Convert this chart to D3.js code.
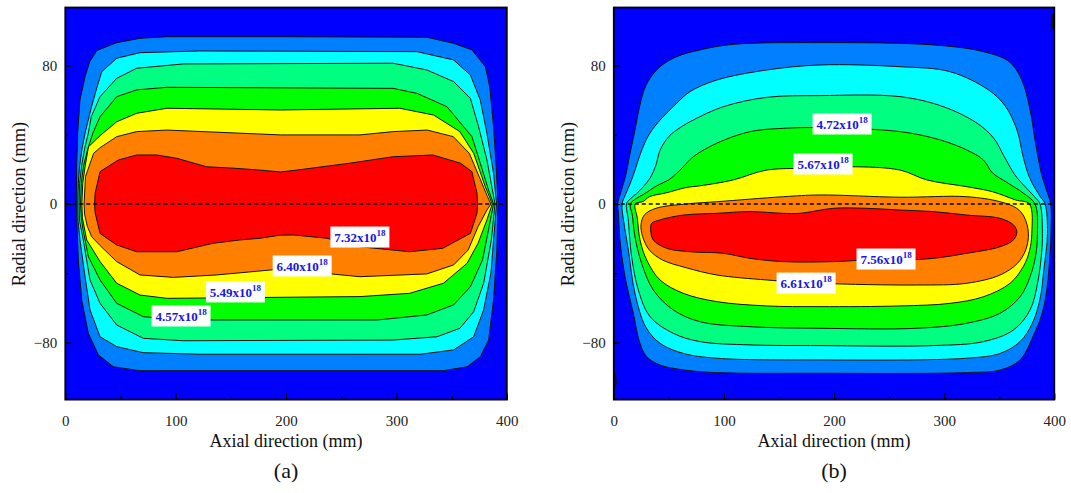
<!doctype html>
<html>
  <head>
    <meta charset="utf-8" />
    <title>Carrier density contours</title>
    <script src="https://cdn.jsdelivr.net/npm/d3@7"></script>
    <style>
      html,
      body {
        margin: 0;
        background: #fff;
        overflow: hidden;
      }
      text {
        font-family: "Liberation Serif", "Times New Roman", serif;
      }
    </style>
  </head>
  <body>
    <script>
      // Axis ticks
      const xTicks = [0, 100, 200, 300, 400];
      const xMinor = [50, 150, 250, 350];
      const yTicks = [-80, 0, 80];
      const yMinor = [-40, 40];
      const tags = ["(a)", "(b)"];

      // Contour boundaries: [axial mm, radial mm]
      // level 1 = outermost band, level 7 = core. upper/lower share end points.

      // ---- panel (a) ----
      const a1Up = [[10,0],[10.3,21.5],[11.2,41],[13.3,60],[17.9,73.5],[22,82],[28.5,88.6],[46.6,93.2],[67.7,95.7],[92,96.6],[200,96.6],[327.6,96.3],[351.8,92.8],[368.4,89],[380.6,79.3],[384.5,67.8],[388,44.7],[390.4,21.5],[392,0]];
      const a1Lo = [[10,0],[10.3,-7.7],[11.8,-32.4],[14.9,-55.5],[20.9,-74.7],[30,-87.2],[43.5,-94],[67.7,-96.3],[342.6,-96.3],[364,-94],[376,-88.2],[383.5,-78.6],[388,-55.5],[391,-26.6],[392,0]];
      const a2Up = [[11.3,0],[11.8,12],[13,22],[15.2,32],[17.9,41],[23,54.3],[28,65.9],[33,76.4],[46.6,84.2],[67.7,87.4],[122,88.4],[318.6,88],[351.8,83.2],[367,74.5],[376,60],[382,40.8],[388,17.7],[390.7,0]];
      const a2Lo = [[11.3,0],[11.6,-10],[13.3,-20.8],[17.9,-42],[22.4,-61.2],[31.5,-76.7],[46.6,-82.4],[70.7,-85.9],[122,-86.8],[321.6,-86.8],[351.8,-84.3],[370,-76.7],[379,-61.2],[385.6,-40],[388.5,-17],[390.7,0]];
      const a3Up = [[12.5,0],[13,12],[14.8,22],[17.5,32],[20.9,41],[23.5,50.4],[31.5,62],[46.6,72.6],[64.7,78.4],[107,80.9],[297,81.3],[327.6,77.4],[351.8,70.7],[367,61],[374.4,44.7],[382,25.4],[389.3,0]];
      const a3Lo = [[12.5,0],[13,-10],[16.3,-20.8],[22.4,-43.9],[31.5,-57.4],[46.6,-69.9],[70.7,-77.6],[107,-79],[297,-78.6],[336.7,-76.7],[357.5,-71.8],[370,-62.2],[379,-45.8],[386,-20.8],[389.3,0]];
      const a4Up = [[13.8,0],[14.5,12],[16.5,22],[20.5,32],[25,41],[31.5,50.4],[46.6,62],[64.7,65.9],[92,67.4],[297,66.8],[318.6,63.9],[345.8,56.2],[368.4,38.9],[376,23.5],[383.5,8],[388,0]];
      const a4Lo = [[13.8,0],[14.5,-8],[15.8,-14],[20.9,-30.4],[31.5,-43.9],[46.6,-57.4],[70.7,-65.1],[107,-67],[283,-67],[327.6,-64.1],[351.8,-58.3],[367,-47.8],[378,-32.3],[384,-13.1],[388,0]];
      const a5Up = [[15,0],[15.8,12],[18,22],[21,33],[31.5,39.5],[46.6,47.5],[64.7,52.4],[92,55.3],[195,54.3],[303,55.3],[333.6,51.4],[357.5,41.8],[370,29.3],[380.5,10],[386.8,0]];
      const a5Lo = [[15,0],[15.5,-8],[19.4,-20.8],[31.5,-33.3],[46.6,-45.8],[67.7,-52.6],[92,-54.5],[267,-53.5],[312,-51.6],[342.6,-45.8],[364,-34.3],[374,-22.7],[382,-9.2],[386.8,0]];
      const a6Up = [[17,0],[18.3,15.8],[25.7,29.3],[31.5,32.5],[46.6,38.9],[64.7,41.8],[92,42.7],[195,39.9],[267,39.9],[297,41.8],[328,42.7],[351.5,38.9],[366,29.3],[375,15.8],[382.5,4.2],[385.6,0]];
      const a6Lo = [[17,0],[17.5,-6],[20,-13],[24,-19],[31.5,-24],[46.6,-33.3],[67.7,-41],[98,-42.4],[137,-41],[195,-37.6],[267,-42],[327.6,-40.4],[351.8,-35.2],[365,-26.6],[374,-13.1],[382,-3.5],[385.6,0]];
      const a7Up = [[26.5,0],[27,6.2],[31.5,18.7],[48,25.4],[64.7,28.3],[82.9,28.3],[101,26.4],[128,21.5],[152,20.7],[176,19.6],[195,18.5],[210,19.6],[258,23.6],[297,27.3],[333,28.3],[358,23.6],[368.4,18.7],[373,6.2],[373.5,0]];
      const a7Lo = [[26.5,0],[27,-5],[31.5,-17],[46.6,-23.7],[64.7,-27.6],[101,-27.6],[134,-22.7],[158,-20.8],[176.5,-19.8],[195,-18],[206.7,-17.9],[237,-19.8],[267,-24.7],[312,-27.6],[342,-25.6],[367,-17],[373,-5.4],[373.5,0]];

      // ---- panel (b) ----
      const b1Up = [[3.5,0],[7,8],[11,17],[15,30],[19,42],[23,55],[27,65],[32.9,72.6],[42,79.3],[57.1,85.1],[78.3,89],[108.5,92.2],[187.3,93.2],[290,91.9],[335.6,88],[359,82.2],[370.5,71.6],[378,54.3],[383,35],[388.5,17],[394.5,5],[396.8,0]];
      const b1Lo = [[3.5,0],[4.2,-5.4],[5.6,-20.8],[10.2,-42],[17.7,-63.1],[23.8,-80.5],[29.9,-88.2],[42,-93],[63.1,-95.8],[93.5,-97.4],[187,-97.8],[320.5,-97.4],[350.8,-95.9],[368.9,-90.1],[381,-76],[389,-63],[393.5,-48],[396,-30],[397,-17],[396.8,0]];
      const b2Up = [[7.5,0],[11,6],[15,12],[19,19],[22.5,26],[26,32],[31,39],[40,47],[57.1,58.2],[69.2,64.9],[93.5,71.6],[138.9,77.4],[187.3,80.3],[259.9,79.3],[305.4,76.4],[340,66],[355,57],[366,43],[372,26.5],[378,14.5],[387,4.5],[391.6,0]];
      const b2Lo = [[7.5,0],[9,-10],[13.2,-26.6],[19.2,-51.6],[28.9,-70.9],[42,-80.5],[63.1,-86.3],[93.5,-89.1],[187.3,-90.1],[320.5,-89.1],[350.8,-86.3],[368.9,-79.5],[380,-69],[387,-55],[390.5,-38],[393.8,-17],[391.6,0]];
      const b3Up = [[11.5,0],[15,3],[20.8,6],[26.8,10],[33,15],[38,22],[42,31],[50,39],[60,44],[72.2,48.5],[99.5,56.2],[138.9,61.6],[187.3,62.6],[259.9,62],[299.3,56.2],[330,46.6],[345,38],[354,28],[364,17],[372,11],[382,4.2],[387,0]];
      const b3Lo = [[11.5,0],[13,-8.3],[16.2,-30.4],[22.3,-49.7],[32.9,-65.1],[54,-74.7],[78.3,-79.5],[123.7,-81.4],[187.3,-81.8],[290,-81.8],[335.6,-79.5],[362.9,-72.8],[378,-61.2],[385,-45],[388.5,-28],[389.2,-17],[387,0]];
      const b4Up = [[15,0],[20,3],[26.8,5.5],[39,10.5],[50,14],[57.1,17.7],[63.1,21.5],[72.2,27.3],[93.5,35.1],[123.7,41.8],[154,43.7],[187.3,44.1],[259.9,41.8],[296.3,37],[320.5,31.2],[335.6,25.4],[343.8,18],[356.9,12.5],[372,6.2],[382.5,0]];
      const b4Lo = [[15,0],[16.8,-6.4],[19.2,-18.9],[25.3,-34.3],[35.9,-49.7],[54,-61.2],[78.3,-68],[123.7,-70.9],[187.3,-71.8],[275,-71.8],[320.5,-68.9],[350.8,-63.1],[368.9,-53.6],[378,-42],[383,-30],[384.7,-17],[382.5,0]];
      const b5Up = [[19.5,0],[26.8,1.5],[32.3,4.2],[48,6.5],[65.6,9.5],[78.3,10.5],[108.5,13.9],[138.9,19.6],[187.3,20.6],[214.4,21.5],[259.9,19.6],[284.2,13.9],[320.5,10],[343.8,7.1],[365,2.3],[377.4,0]];
      const b5Lo = [[19.5,0],[21.4,-8.3],[23.8,-20.8],[29.9,-32.4],[42,-43.9],[63.1,-51.6],[93.5,-56.4],[138.9,-58.9],[187.3,-59.3],[259.9,-58.9],[305.4,-57.4],[335.6,-53.6],[359.9,-45.8],[372,-36],[377.5,-27],[379.6,-17],[377.4,0]];
      const b6Up = [[24.7,-12.1],[27.7,-6.4],[38.3,-2.5],[65.6,0],[93.5,1.3],[154,4.2],[187.3,5.2],[259.9,3.9],[320.5,4.2],[350.8,1.3],[365.9,-2.5],[372.5,-7.3],[376.5,-16.9]];
      const b6Lo = [[24.7,-12.1],[26.2,-18.9],[32.3,-26.6],[44.4,-32.4],[65.6,-36.8],[93.5,-41],[138.9,-43.9],[187.3,-45.8],[275,-46.8],[320.5,-45.8],[350.8,-41],[366.5,-34.3],[374,-26.6],[376.5,-16.9]];
      const b7Up = [[33.5,-15],[34.4,-11.2],[42,-9.2],[63.1,-6.4],[93.5,-5.4],[123.7,-4.4],[154,-5.4],[169,-5.4],[199.4,-2.5],[229.7,-2.5],[259.9,-3.5],[290.2,-4.4],[320.5,-6.4],[350.8,-8.3],[362.9,-12.1],[366,-16]];
      const b7Lo = [[33.5,-15],[35.9,-20.8],[48,-25.6],[69.2,-27.6],[99.5,-28.5],[123.7,-31.4],[154,-33.3],[199.4,-33.3],[229.7,-32.4],[259.9,-32.4],[290.2,-31.4],[320.5,-28.5],[350.8,-24.7],[362.9,-20.8],[366,-16]];
      // small edge contours in the corners of (b)
      const bEdge = [
        [[400,111],[398.4,108],[398,105],[398.6,102],[400,100]],
        [[0,-97],[1.4,-100],[1.8,-102.5],[1.3,-105],[0,-107]],
      ];

      // Level labels: [mantissa, axial mm, radial mm]
      const labelsA = [["7.32", 266.9, -19.1], ["6.40", 214.6, -35.8], ["5.49", 154.1, -50.8], ["4.57", 104.9, -64.7]];
      const labelsB = [["4.72", 207.3, 46.2], ["5.67", 190, 23.1], ["7.56", 247.2, -31.8], ["6.61", 174.6, -45.7]];

      const panelA = [[a1Up,a1Lo],[a2Up,a2Lo],[a3Up,a3Lo],[a4Up,a4Lo],[a5Up,a5Lo],[a6Up,a6Lo],[a7Up,a7Lo]];
      const panelB = [[b1Up,b1Lo],[b2Up,b2Lo],[b3Up,b3Lo],[b4Up,b4Lo],[b5Up,b5Lo],[b6Up,b6Lo],[b7Up,b7Lo]];

      // Colour for each band (0 = background)
      const color = d3
        .scaleOrdinal()
        .domain(d3.range(0, 8))
        .range(["#0000ff", "#0080ff", "#00ffff", "#00ff80", "#00ff00", "#ffff00", "#ff8000", "#ff0000"]);

      const width = 1071;
      const height = 493;
      const plotTop = 7.5;
      const plotBottom = 399.6;

      const panels = [
        { x0: 65.3, x1: 506.8, levels: panelA, labels: labelsA, curve: d3.curveLinearClosed, edges: [] },
        { x0: 613.8, x1: 1054.3, levels: panelB, labels: labelsB, curve: d3.curveCatmullRomClosed.alpha(0.5), edges: bEdge },
      ];

      const svg = d3
        .select("body")
        .append("svg")
        .attr("width", width)
        .attr("height", height)
        .attr("viewBox", [0, 0, width, height]);

      const ring = (up, lo) => up.concat(lo.slice(1, -1).reverse());

      panels.forEach((p, i) => {
        const x = d3.scaleLinear().domain([0, 400]).range([p.x0, p.x1]);
        const y = d3.scaleLinear().domain([-113, 113.5]).range([plotBottom, plotTop]);
        const line = d3
          .line()
          .x((d) => x(d[0]))
          .y((d) => y(d[1]))
          .curve(p.curve);

        const g = svg.append("g");

        g.append("clipPath")
          .attr("id", "clip" + i)
          .append("rect")
          .attr("x", p.x0)
          .attr("y", plotTop)
          .attr("width", p.x1 - p.x0)
          .attr("height", plotBottom - plotTop);

        const plot = g.append("g").attr("clip-path", `url(#clip${i})`);

        // background band
        plot
          .append("rect")
          .attr("x", p.x0)
          .attr("y", plotTop)
          .attr("width", p.x1 - p.x0)
          .attr("height", plotBottom - plotTop)
          .attr("fill", color(0));

        // filled contour bands, outermost first
        plot
          .selectAll("path.band")
          .data(p.levels)
          .join("path")
          .attr("class", "band")
          .attr("d", (d) => line(ring(d[0], d[1])))
          .attr("fill", (d, k) => color(k + 1))
          .attr("stroke", "#111")
          .attr("stroke-width", 1);

        plot
          .selectAll("path.edge")
          .data(p.edges)
          .join("path")
          .attr("class", "edge")
          .attr("d", d3.line().x((d) => x(d[0])).y((d) => y(d[1])).curve(d3.curveCatmullRom))
          .attr("fill", "none")
          .attr("stroke", "#111")
          .attr("stroke-width", 2);

        // dashed centre line
        plot
          .append("line")
          .attr("x1", x(0))
          .attr("x2", x(400))
          .attr("y1", y(0))
          .attr("y2", y(0))
          .attr("stroke", "#000")
          .attr("stroke-width", 1.5)
          .attr("stroke-dasharray", "4,3");

        // level labels
        const lab = plot
          .selectAll("g.lab")
          .data(p.labels)
          .join("g")
          .attr("class", "lab")
          .attr("transform", (d) => `translate(${x(d[1])},${y(d[2])})`);
        lab
          .append("rect")
          .attr("x", -29.5)
          .attr("y", -10.5)
          .attr("width", 59)
          .attr("height", 21)
          .attr("fill", "#fff");
        const t = lab
          .append("text")
          .attr("text-anchor", "middle")
          .attr("y", 5)
          .attr("fill", "#1515e6")
          .attr("font-weight", "bold")
          .attr("font-size", 13);
        t.append("tspan").text((d) => d[0] + "x10");
        t.append("tspan").attr("dy", -6).attr("font-size", 9).text("18");

        // axes (ticks point inward)
        g.append("g")
          .attr("transform", `translate(0,${plotBottom})`)
          .call(d3.axisBottom(x).tickValues(xTicks).tickSizeInner(-6).tickSizeOuter(0).tickPadding(16));
        g.append("g")
          .attr("transform", `translate(0,${plotBottom})`)
          .call(d3.axisBottom(x).tickValues(xMinor).tickSizeInner(-3.5).tickSizeOuter(0).tickFormat(""));
        g.append("g")
          .attr("transform", `translate(${p.x0},0)`)
          .call(d3.axisLeft(y).tickValues(yTicks).tickSizeInner(-6).tickSizeOuter(0).tickPadding(8));
        g.append("g")
          .attr("transform", `translate(${p.x0},0)`)
          .call(d3.axisLeft(y).tickValues(yMinor).tickSizeInner(-3.5).tickSizeOuter(0).tickFormat(""));

        g.selectAll(".domain").remove();
        g.selectAll(".tick line").attr("stroke", "#000").attr("stroke-width", 1.2);
        g.selectAll(".tick text")
          .attr("font-family", '"Liberation Serif", "Times New Roman", serif')
          .attr("font-size", 15)
          .attr("fill", "#222");

        // frame
        g.append("rect")
          .attr("x", p.x0)
          .attr("y", plotTop)
          .attr("width", p.x1 - p.x0)
          .attr("height", plotBottom - plotTop)
          .attr("fill", "none")
          .attr("stroke", "#000")
          .attr("stroke-width", 1.8);

        // titles
        const cx = (p.x0 + p.x1) / 2;
        g.append("text")
          .attr("x", cx)
          .attr("y", 447)
          .attr("text-anchor", "middle")
          .attr("font-size", 18)
          .attr("fill", "#111")
          .text("Axial direction (mm)");
        g.append("text")
          .attr("transform", `translate(${p.x0 - 40},${y(0)}) rotate(-90)`)
          .attr("text-anchor", "middle")
          .attr("font-size", 18.5)
          .attr("fill", "#111")
          .text("Radial direction (mm)");
        g.append("text")
          .attr("x", cx)
          .attr("y", 478)
          .attr("text-anchor", "middle")
          .attr("font-size", 22)
          .attr("fill", "#111")
          .text(tags[i]);
      });
    </script>
  </body>
</html>
